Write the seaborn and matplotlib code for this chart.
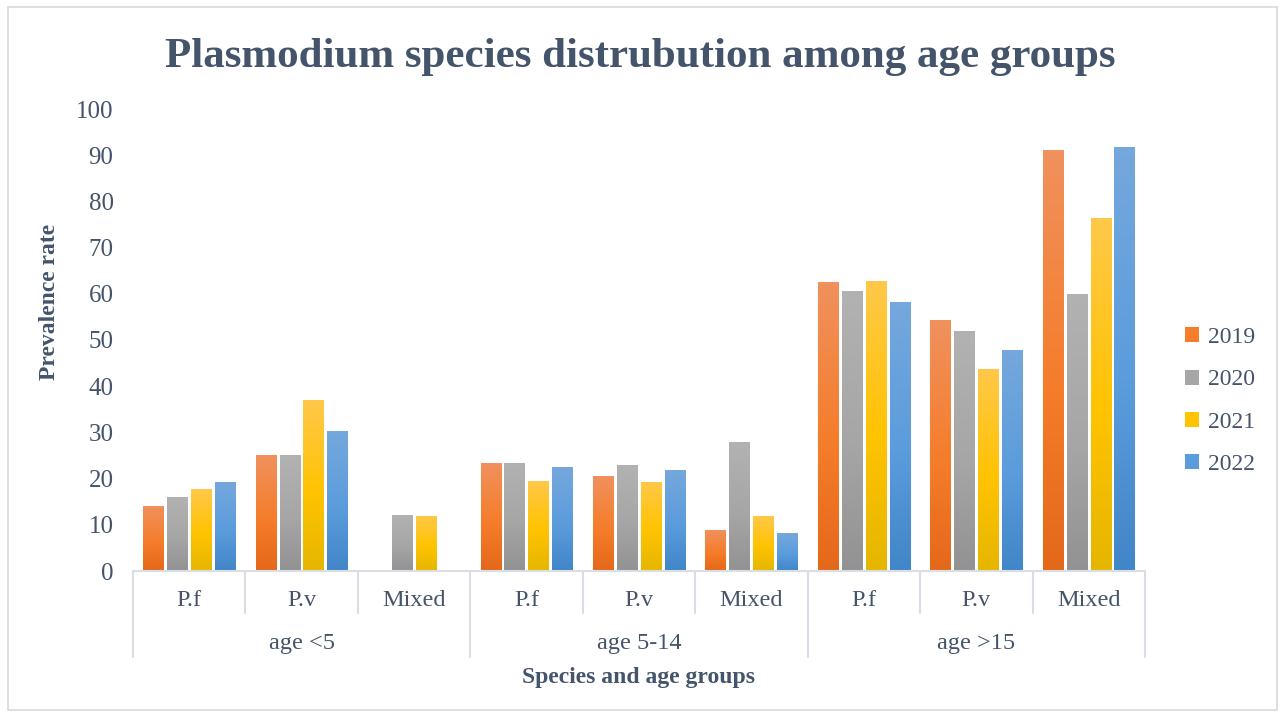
import numpy as np
import pandas as pd
import matplotlib
matplotlib.use("Agg")
import matplotlib.pyplot as plt
import seaborn as sns
from matplotlib.colors import LinearSegmentedColormap
from matplotlib.patches import Rectangle, Patch
from matplotlib.transforms import blended_transform_factory

# data
groups = ["age <5", "age 5-14", "age >15"]
species = ["P.f", "P.v", "Mixed"]
years = ["2019", "2020", "2021", "2022"]
v2019 = [14.1, 25.1, np.nan, 23.4, 20.6, 8.9, 62.6, 54.3, 91.1]
v2020 = [16.0, 25.1, 12.1, 23.4, 22.9, 27.9, 60.6, 51.9, 60.0]
v2021 = [17.7, 37.0, 11.9, 19.5, 19.3, 11.9, 62.8, 43.7, 76.4]
v2022 = [19.3, 30.3, np.nan, 22.5, 21.9, 8.2, 58.2, 47.8, 91.8]

cats = [g + "|" + s for g in groups for s in species]
rows = []
for yr, vals in zip(years, [v2019, v2020, v2021, v2022]):
    for c, v in zip(cats, vals):
        rows.append({"cat": c, "year": yr, "value": v})
df = pd.DataFrame(rows)

base = {"2019": "#F47B2A", "2020": "#A5A5A5", "2021": "#FFC000", "2022": "#5599DB"}
grad = {
    "2019": ["#F0915E", "#F57D2B", "#E4681A"],
    "2020": ["#B2B2B2", "#A6A6A6", "#929292"],
    "2021": ["#FFC84A", "#FFC300", "#E5B600"],
    "2022": ["#75A8DC", "#5B9CDC", "#4186C8"],
}
text_col = "#44546A"
line_col = "#D9DEE6"

sns.set_theme(style="white")
plt.rcParams["font.family"] = ["Liberation Serif", "DejaVu Serif"]

fig = plt.figure(figsize=(12.82, 7.16), dpi=100)
W, H = 1282, 716
ax = fig.add_axes([133 / W, 1 - 571 / H, (1145 - 133) / W, (571 - 109) / H])

sns.barplot(data=df, x="cat", y="value", hue="year", order=cats, hue_order=years,
            palette=base, width=0.85, gap=0.15, ax=ax, legend=False, saturation=1)

# vertical gradient fill like the office chart
for cont, yr in zip(ax.containers, years):
    cmap = LinearSegmentedColormap.from_list("g" + yr, [(0, grad[yr][2]), (0.45, grad[yr][1]), (1, grad[yr][0])])
    for p in cont:
        h = p.get_height()
        if not np.isfinite(h) or h <= 0:
            continue
        x0 = p.get_x()
        w = p.get_width()
        g = np.linspace(0, 1, 256).reshape(-1, 1)
        im = ax.imshow(g, cmap=cmap, origin="lower", aspect="auto",
                       extent=[x0, x0 + w, 0, h], zorder=2)
        im.set_clip_path(p)
        p.set_facecolor("none")
        p.set_edgecolor("none")

ax.set_xlim(-0.5, len(cats) - 0.5)
ax.set_ylim(0, 100)
ax.set_yticks(range(0, 101, 10))
ax.tick_params(axis="y", length=0, pad=14, labelsize=18, labelcolor=text_col)
ax.set_xticks([])
ax.set_xlabel("")
ax.set_ylabel("")
for s in ["top", "left", "right"]:
    ax.spines[s].set_visible(False)
ax.spines["bottom"].set_color(line_col)
ax.spines["bottom"].set_linewidth(1.5)

# two level category axis
tr = blended_transform_factory(ax.transData, ax.transAxes)
ah = 571 - 109
for i in range(len(cats) + 1):
    xb = i - 0.5
    bottom = -(657 - 571) / ah if i % 3 == 0 else -(613 - 571) / ah
    ax.plot([xb, xb], [0, bottom], transform=tr, color=line_col, lw=1.5, clip_on=False)
for i, c in enumerate(cats):
    ax.text(i, -(600 - 571) / ah, c.split("|")[1], transform=tr, ha="center", va="center",
            fontsize=17.5, color=text_col)
for j, g in enumerate(groups):
    ax.text(3 * j + 1, -(643 - 571) / ah, g, transform=tr, ha="center", va="center",
            fontsize=17.5, color=text_col)

fig.text(640 / W, 1 - 57 / H, "Plasmodium species distrubution among age groups",
         ha="center", va="center", fontsize=31, fontweight="bold", color=text_col)
fig.text(50 / W, 1 - 302 / H, "Prevalence rate", rotation=90, ha="center", va="center",
         fontsize=17, fontweight="bold", color=text_col)
fig.text(639 / W, 1 - 677 / H, "Species and age groups", ha="center", va="center",
         fontsize=17, fontweight="bold", color=text_col)

handles = [Patch(facecolor=grad[y][1], edgecolor="none") for y in years]
fig.legend(handles, years, loc="center left", bbox_to_anchor=(1164 / W, 1 - 401 / H),
           frameon=False, fontsize=17, labelcolor=text_col, handlelength=0.6,
           handleheight=0.6, handletextpad=0.35, labelspacing=0.9)

fig.patches.append(Rectangle((8 / W, 1 - 710 / H), (1277 - 8) / W, (710 - 7) / H,
                             transform=fig.transFigure, fill=False, edgecolor="#D9D9D9", lw=1.2))

fig.savefig("out.png", dpi=100)
